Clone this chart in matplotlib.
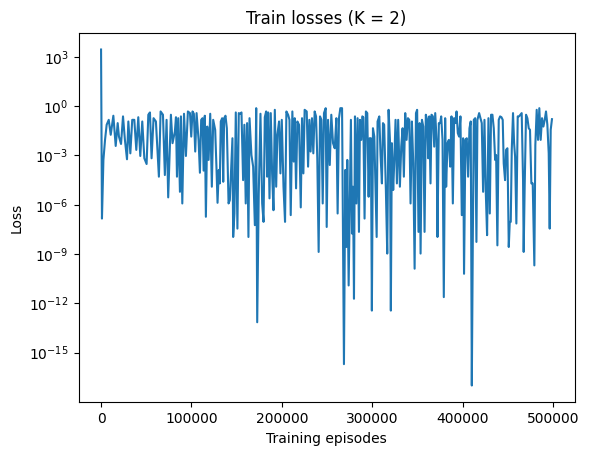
import numpy as np
import matplotlib.pyplot as plt
from matplotlib.ticker import NullLocator

# 학습 에피소드
episodes = [
    0, 1000, 2600, 4400, 6200, 8500, 10700, 13600, 16200, 18400,
    19800, 22100, 24300, 26400, 28700, 30200, 32400, 34500, 36800, 39000,
    41200, 43400, 45600, 47900, 50400, 52300, 54100, 55900, 58100, 60700,
    64000, 65900, 68500, 70600, 72500, 74300, 77300, 79100, 81700, 82900,
    84000, 85400, 87300, 88400, 89900, 91800, 93900, 96100, 98400, 99800,
    101200, 102700, 104200, 105700, 107900, 109400, 110800, 112300, 113500, 114800,
    116000, 117500, 119000, 120800, 122600, 124100, 126300, 127800, 128900, 130300,
    131400, 132500, 134000, 135200, 136200, 137700, 139200, 141100, 142500, 143900,
    145400, 146200, 147600, 149100, 150900, 152400, 153900, 155400, 157200, 158600,
    160100, 161600, 163100, 164300, 166400, 168300, 170200, 171700, 172800, 174500,
    176400, 178300, 179800, 181200, 182700, 183800, 184900, 186400, 187800, 189300,
    190800, 192300, 193800, 195100, 197000, 198500, 200000, 201900, 203600, 205100,
    207000, 208500, 209900, 211700, 213200, 214300, 215800, 217200, 219100, 221000,
    222400, 223900, 225300, 227600, 229100, 230500, 231900, 233400, 234900, 236400,
    237900, 239300, 240800, 242300, 243800, 245300, 246700, 248600, 249700, 251200,
    253100, 254800, 256700, 258600, 260400, 261800, 263300, 264800, 266700, 268800,
    270300, 271400, 272500, 274000, 275500, 276500, 277700, 278800, 279900, 281000,
    282500, 283900, 285400, 286500, 288000, 289100, 290200, 291600, 293100, 294600,
    296100, 297200, 298600, 299700, 300900, 302400, 303500, 305000, 306000, 307900,
    309300, 310800, 312000, 313300, 315200, 316700, 318200, 319700, 320700, 321800,
    323300, 324400, 325900, 327400, 328800, 330700, 332200, 333700, 335100, 336600,
    338100, 339600, 341100, 342500, 344000, 345500, 347000, 348500, 349800, 351300,
    352500, 353600, 355100, 356600, 358000, 359400, 360900, 362100, 363200, 364600,
    365700, 367200, 368700, 369800, 371300, 372300, 373800, 375300, 376400, 377900,
    379300, 380800, 381900, 383400, 384900, 386400, 387800, 389300, 390700, 392200,
    393400, 394800, 396200, 397700, 399200, 400700, 401700, 403200, 404700, 406200,
    407700, 409100, 410300, 411400, 412500, 414000, 415400, 416500, 418400, 419900,
    421300, 422800, 424300, 425700, 427200, 428700, 430200, 431600, 433100, 434600,
    436100, 437200, 438600, 440100, 441600, 443100, 444500, 445600, 447100, 448200,
    449700, 451200, 452300, 453400, 454500, 455900, 457100, 458200, 459600, 461100,
    462600, 464000, 465500, 467000, 467700, 468800, 470300, 471800, 473300, 474700,
    476200, 477700, 479500, 480600, 482100, 483600, 485000, 486500, 488000, 489500,
    491000, 492400, 493900, 495400, 496500, 497600, 499000,
]

# 손실값의 지수 (log10)
loss_exp = [
    3.45, -6.84, -3.27, -2.05, -1.13, -0.83, -1.74, -0.58, -2.42, -1.03,
    -1.85, -2.30, -0.62, -2.05, -3.23, -0.93, -2.87, -0.83, -0.83, -2.66,
    -0.67, -3.03, -0.93, -3.17, -3.52, -0.52, -0.38, -3.17, -0.73, -0.93,
    -4.29, -0.32, -0.52, -4.19, -0.83, -5.55, -0.52, -2.25, -1.54, -0.67,
    -4.29, -0.73, -5.21, -0.62, -5.92, -0.46, -3.03, -0.32, -0.42, -1.85,
    -0.32, -0.46, -2.76, -0.42, -2.05, -4.05, -0.83, -0.73, -3.92, -0.58,
    -6.73, -1.24, -3.27, -0.46, -4.90, -0.83, -1.44, -3.88, -5.88, -3.88,
    -4.70, -0.93, -0.73, -4.60, -0.73, -0.58, -1.34, -5.92, -5.72, -3.88,
    -1.95, -7.96, -6.53, -0.38, -7.45, -0.42, -0.46, -0.38, -4.50, -1.13,
    -5.92, -1.03, -7.96, -0.73, -2.97, -3.68, -7.24, -0.12, -13.15, -5.31,
    -0.46, -5.92, -7.04, -0.67, -0.32, -4.29, -0.38, -5.61, -0.42, -4.09,
    -6.33, -0.22, -4.90, -1.74, -0.93, -4.09, -0.83, -4.90, -7.04, -0.32,
    -0.52, -0.83, -6.63, -0.32, -3.37, -0.73, -5.00, -0.93, -1.13, -6.16,
    -0.73, -4.09, -0.22, -0.32, -3.68, -0.83, -2.76, -0.73, -2.87, -0.32,
    -0.62, -3.17, -8.87, -0.62, -0.83, -5.92, -0.42, -0.12, -7.35, -0.83,
    -3.58, -0.52, -2.25, -2.56, -0.73, -6.53, -0.73, -0.12, -0.12, -15.70,
    -3.88, -8.57, -3.27, -10.91, -4.90, -0.83, -7.75, -4.90, -11.72, -0.62,
    -5.92, -0.73, -7.65, -0.83, -2.05, -0.62, -0.67, -6.84, -0.32, -0.42,
    -5.51, -1.95, -1.95, -12.44, -1.34, -1.85, -4.50, -7.96, -0.93, -0.62,
    -2.97, -4.70, -1.03, -1.13, -5.10, -8.97, -0.22, -2.05, -12.44, -2.25,
    -5.10, -3.48, -0.83, -4.70, -0.83, -4.90, -2.46, -1.34, -4.29, -0.42,
    -2.05, -0.73, -0.83, -5.92, -0.93, -3.48, -9.89, -0.42, -0.22, -7.65,
    -1.03, -8.97, -0.83, -1.24, -7.65, -0.52, -0.83, -3.17, -0.62, -4.70,
    -0.52, -0.62, -2.46, -0.42, -2.05, -7.96, -1.03, -1.03, -0.62, -2.05,
    -11.62, -0.73, -4.90, -2.25, -2.05, -3.68, -0.62, -5.92, -0.73, -1.03,
    -0.32, -1.64, -1.85, -0.62, -6.63, -1.95, -10.20, -2.05, -1.95, -4.29,
    -1.34, -0.93, -17.00, -8.16, -0.83, -0.73, -8.26, -0.83, -0.42, -0.73,
    -1.03, -5.21, -0.83, -5.10, -7.85, -0.73, -6.53, -0.52, -0.52, -1.34,
    -3.27, -2.97, -8.47, -0.83, -0.62, -0.67, -0.83, -3.48, -4.50, -2.66,
    -2.56, -8.57, -7.04, -7.04, -2.66, -0.42, -2.25, -3.07, -7.14, -0.62,
    -0.62, -0.52, -0.42, -4.50, -8.87, -4.90, -0.52, -0.73, -1.34, -1.44,
    -4.70, -4.70, -9.69, -2.36, -0.22, -2.05, -0.12, -2.05, -0.73, -1.24,
    -0.83, -0.32, -1.13, -2.87, -7.45, -1.44, -0.79,
]

# y축 눈금 지수
ytick_exp = [3, 0, -3, -6, -9, -12, -15]

K = 2

losses = 10.0 ** np.array(loss_exp)

fig = plt.figure(figsize=(5.89, 4.55), dpi=100)
ax = fig.add_axes([0.1333, 0.1158, 0.8421, 0.8123])
ax.plot(episodes, losses)
ax.set_yscale("log")
ax.set_yticks(10.0 ** np.array(ytick_exp, dtype=float))
ax.yaxis.set_minor_locator(NullLocator())
ax.set_title(f"Train losses (K = {K})")
ax.set_xlabel("Training episodes")
ax.set_ylabel("Loss")

fig.savefig("out.png", dpi=100)
